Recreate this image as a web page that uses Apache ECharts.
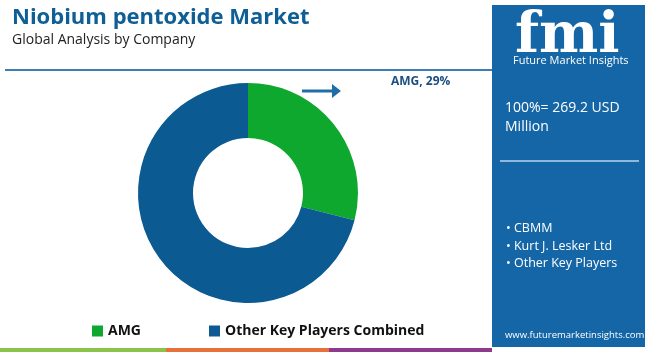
<!DOCTYPE html>
<html><head><meta charset="utf-8">
<script src="https://cdn.jsdelivr.net/npm/echarts@6/dist/echarts.min.js"></script>
<style>html,body{margin:0;padding:0;background:#fff}#c{width:650px;height:352px}</style>
</head><body><div id="c"></div>
<script>
const title = "Niobium pentoxide Market";
const subtitle = "Global Analysis by Company";
const companies = ["AMG", "Other Key Players Combined"];
const shares = [29, 71];
const colors = ["#0fa82f", "#0b5a91"];
const totalText = ["100%= 269.2 USD", "Million"];
const keyPlayers = ["CBMM", "Kurt J. Lesker Ltd", "Other Key Players"];
const calloutLabel = companies[0] + ", " + shares[0] + "%";

const chart = echarts.init(document.getElementById('c'), null, {renderer: 'canvas'});
const F = "'Open Sans', Roboto, sans-serif";
const panelBlue = "#1566a6";
chart.setOption({
  animation: false,
  color: colors,
  legend: {
    left: 87, top: 319, itemWidth: 11, itemHeight: 11, itemGap: 68, icon: 'rect',
    textStyle: {fontFamily: F, fontWeight: 'bold', fontSize: 14, color: '#111'},
    data: companies
  },
  series: [{
    type: 'pie', center: [248, 193], radius: [55, 110], startAngle: 90, clockwise: true,
    label: {show: false}, labelLine: {show: false}, silent: true,
    data: companies.map((n, i) => ({name: n, value: shares[i]}))
  }],
  graphic: [
    {type: 'text', left: 12, top: 7, style: {text: title, font: "bold 22px " + F, fill: '#0d5f96'}},
    {type: 'text', left: 12, top: 33, style: {text: subtitle, font: "14px " + F, fill: '#222'}},
    {type: 'rect', shape: {x: 5, y: 69, width: 487, height: 2}, style: {fill: '#3d7fb5'}},
    {type: 'text', left: 391, top: 76, style: {text: calloutLabel, font: "bold 12px " + F, fill: '#1a4f80'}},
    {type: 'line', shape: {x1: 302, y1: 91, x2: 334, y2: 91}, style: {stroke: '#1f6ea8', lineWidth: 3}},
    {type: 'polygon', shape: {points: [[332, 84], [341, 91], [332, 98]]}, style: {fill: '#1f6ea8'}},
    {type: 'rect', shape: {x: 492, y: 5, width: 153, height: 342}, style: {fill: panelBlue}},
    {type: 'text', left: 515, top: 9, style: {text: 'fmi', font: "bold 56px 'DejaVu Serif', serif", fill: '#ffffff'}},
    {type: 'text', left: 513, top: 55, style: {text: 'Future Market Insights', font: "11px " + F, fill: '#ffffff'}},
    {type: 'text', left: 505, top: 101, style: {text: totalText[0], font: "14px " + F, fill: '#ffffff'}},
    {type: 'text', left: 505, top: 120, style: {text: totalText[1], font: "14px " + F, fill: '#ffffff'}},
    {type: 'rect', shape: {x: 500, y: 160, width: 139, height: 2}, style: {fill: '#8fb8dc'}},
    {type: 'text', left: 506, top: 220, style: {text: keyPlayers.map(s => '• ' + s).join('\n'), font: "12.5px " + F, lineHeight: 17.5, fill: '#ffffff'}},
    {type: 'text', left: 505, top: 330, style: {text: 'www.futuremarketinsights.com', font: "9.5px " + F, fill: '#ffffff'}},
    {type: 'rect', shape: {x: 0, y: 348, width: 166, height: 4}, style: {fill: '#8bc34a'}},
    {type: 'rect', shape: {x: 166, y: 348, width: 163, height: 4}, style: {fill: '#e8703a'}},
    {type: 'rect', shape: {x: 329, y: 348, width: 163, height: 4}, style: {fill: '#8e3a8e'}}
  ]
});
</script></body></html>
